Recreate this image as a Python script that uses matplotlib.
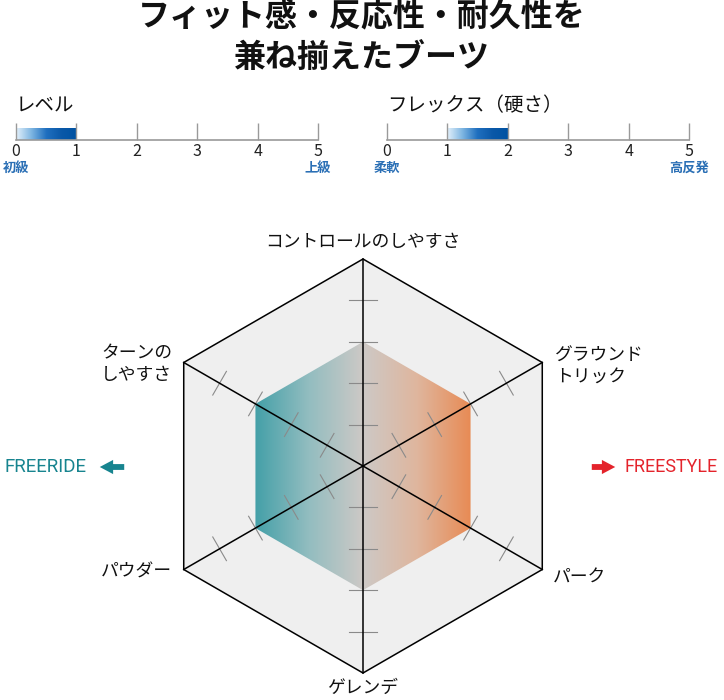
import numpy as np
import matplotlib
matplotlib.use("Agg")
import matplotlib.pyplot as plt
from matplotlib.colors import LinearSegmentedColormap
from matplotlib.patches import Polygon, FancyArrowPatch

plt.rcParams['font.family'] = ['Noto Sans CJK JP', 'DejaVu Sans']

W, H = 724, 700

# data
title = "フィット感・反応性・耐久性を\n兼ね揃えたブーツ"
axis_labels = ["コントロールのしやすさ", "グラウンド\nトリック", "パーク",
               "ゲレンデ", "パウダー", "ターンの\nしやすさ"]
axis_angles = [90, 30, -30, -90, -150, 150]
scores = [3, 3, 3, 3, 3, 3]
max_score = 5
scale_ticks = [0, 1, 2, 3, 4, 5]
level_range = [0, 1]
flex_range = [1, 2]

fig = plt.figure(figsize=(W / 100, H / 100), dpi=100)


def fx(x):
    return x / W


def fy(y):
    return 1 - y / H


fig.text(0.5, fy(37), title, ha='center', va='center', fontsize=23,
         fontweight='bold', linespacing=1.4, color='#111111')

blue_cmap = LinearSegmentedColormap.from_list(
    'blue', ['#e4f1fb', '#7fb6e2', '#1f6fbf', '#0a58a8', '#0052a2'])


def scale_bar(left, right, name, rng, lo_lab, hi_lab):
    ax = fig.add_axes([fx(left), fy(140), fx(right - left), 17 / H])
    grad = np.linspace(0, 1, 256).reshape(1, -1)
    ax.imshow(grad, cmap=blue_cmap, extent=(rng[0], rng[1], 0, 0.65),
              aspect='auto', zorder=1)
    ax.set_xlim(scale_ticks[0], scale_ticks[-1])
    ax.set_ylim(0, 1)
    for s in ['top', 'left', 'right']:
        ax.spines[s].set_visible(False)
    ax.spines['bottom'].set_color('#9a9a9a')
    ax.spines['bottom'].set_linewidth(1.2)
    ax.spines['bottom'].set_zorder(3)
    ax.set_yticks([])
    ax.set_xticks(scale_ticks)
    ax.tick_params(axis='x', direction='in', length=12.3, width=1,
                   color='#9a9a9a', labelsize=11.5, pad=2, labelcolor='#222222')
    ax.patch.set_alpha(0)
    fig.text(fx(left), fy(106), name, ha='left', va='center', fontsize=14,
             color='#111111')
    fig.text(fx(left), fy(168), lo_lab, ha='center', va='center', fontsize=9.5,
             fontweight='bold', color='#2a6fb5')
    fig.text(fx(right), fy(168), hi_lab, ha='center', va='center', fontsize=9.5,
             fontweight='bold', color='#2a6fb5')


scale_bar(16, 318, "レベル", level_range, "初級", "上級")
scale_bar(387, 689, "フレックス（硬さ）", flex_range, "柔軟", "高反発")

# radar
cx, cy = 363, 466
unit = 207 / max_score
L = 5.6
R = L * unit
ax = fig.add_axes([fx(cx - R), fy(cy + R), 2 * R / W, 2 * R / H])
ax.set_xlim(-L, L)
ax.set_ylim(-L, L)
ax.set_aspect('equal')
ax.axis('off')

ang = np.deg2rad(axis_angles)
c, s = np.cos(ang), np.sin(ang)
outer = np.c_[max_score * c, max_score * s]
ax.add_patch(Polygon(outer, closed=True, fc='#efefef', ec='black', lw=1.1, zorder=1))

vals = np.array(scores, dtype=float)
pts = np.c_[vals * c, vals * s]
poly = Polygon(pts, closed=True, fc='none', ec='none', zorder=2)
ax.add_patch(poly)
fill_cmap = LinearSegmentedColormap.from_list(
    'fill', ['#44a0a8', '#93bdc0', '#cdc9c6', '#dfb69e', '#e88b55'])
grad = np.linspace(0, 1, 256).reshape(1, -1)
im = ax.imshow(grad, cmap=fill_cmap, aspect='auto', zorder=2,
               extent=(pts[:, 0].min(), pts[:, 0].max(), pts[:, 1].min(), pts[:, 1].max()))
im.set_clip_path(poly)
ax.set_xlim(-L, L)
ax.set_ylim(-L, L)

for k in range(1, max_score):
    for ci, si in zip(c, s):
        px, py = k * ci, k * si
        nx, ny = -si * 0.33, ci * 0.33
        ax.plot([px - nx, px + nx], [py - ny, py + ny], color='#8a8a8a', lw=0.8, zorder=3)

for ci, si in zip(c, s):
    ax.plot([0, max_score * ci], [0, max_score * si], color='black', lw=1.1, zorder=4)

label_pos = [(363, 242, 'center'), (555, 367, 'left'), (553, 578, 'left'),
             (363, 688, 'center'), (172, 572, 'right'), (172, 364, 'right')]
for lab, (x, y, ha) in zip(axis_labels, label_pos):
    fig.text(fx(x), fy(y), lab, ha=ha, va='center', fontsize=12.8,
             color='#111111', linespacing=1.25)

# style arrows
teal = '#17848f'
red = '#e4232b'
fig.text(fx(4), fy(467), "FREERIDE", ha='left', va='center', fontsize=13.5,
         family='Roboto', color=teal)
fig.text(fx(625), fy(467), "FREESTYLE", ha='left', va='center', fontsize=13,
         family='Roboto', color=red)
for (x0, x1), col in [((127, 97), teal), ((589, 618), red)]:
    fig.add_artist(FancyArrowPatch((fx(x0), fy(467)), (fx(x1), fy(467)),
                                   transform=fig.transFigure,
                                   arrowstyle='simple,head_length=0.8,head_width=0.85,tail_width=0.35',
                                   mutation_scale=12, color=col, lw=0))

fig.savefig("out.png", dpi=100)
